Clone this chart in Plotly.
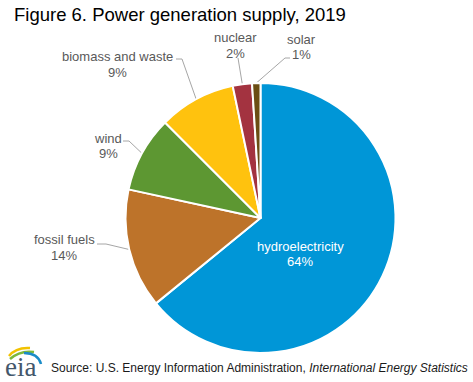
import math
import plotly.graph_objects as go

# ---------------- data ----------------
categories = ["hydroelectricity", "fossil fuels", "wind", "biomass and waste", "nuclear", "solar"]
shares = [64.1, 14.3, 9.1, 9.2, 2.3, 1.0]
colors = ["#0096D7", "#BD732A", "#5D9732", "#FFC20E", "#A33340", "#6B4E14"]

title_text = "Figure 6. Power generation supply, 2019"
source_plain = "Source: U.S. Energy Information Administration, "
source_italic = "International Energy Statistics"

# ---------------- layout constants (pixels) ----------------
W, H = 473, 382
CX, CY, R = 260.5, 218.0, 135.0
FONT = "Liberation Sans, Arial, sans-serif"
LABEL_GRAY = "#595959"
LINE_GRAY = "#A6A6A6"

# label placement: text centre x, line-1 y, line-2 y, text colour, leader path (from label side)
label_layout = {
    "hydroelectricity": dict(x=300, y1=246, y2=261, color="white", leader=None),
    "fossil fuels": dict(x=64, y1=239, y2=255, color=LABEL_GRAY, leader=[(97, 244), (106, 244)]),
    "wind": dict(x=108, y1=138, y2=153, color=LABEL_GRAY, leader=[(123, 141), (129, 141)]),
    "biomass and waste": dict(x=117, y1=56, y2=72, color=LABEL_GRAY, leader=[(176, 59), (182, 59)]),
    "nuclear": dict(x=235, y1=37, y2=53, color=LABEL_GRAY, leader=[(238, 58)]),
    "solar": dict(x=301, y1=39, y2=54, color=LABEL_GRAY, leader=[(290, 58), (285, 58)]),
}

fig = go.Figure()

fig.add_trace(go.Pie(
    labels=categories,
    values=shares,
    sort=False,
    direction="clockwise",
    rotation=0,
    marker=dict(colors=colors, line=dict(color="white", width=2)),
    textinfo="none",
    hoverinfo="label+percent",
    showlegend=False,
    domain=dict(x=[(CX - R) / W, (CX + R) / W], y=[1 - (CY + R) / H, 1 - (CY - R) / H]),
))

total = sum(shares)
cum = 0.0
annotations = []
for name, val in zip(categories, shares):
    mid = (cum + val / 2) / total * 2 * math.pi
    cum += val
    ex = CX + R * math.sin(mid)
    ey = CY - R * math.cos(mid)
    lay = label_layout[name]
    if lay["leader"]:
        pts = lay["leader"] + [(ex, ey)]
        fig.add_trace(go.Scatter(
            x=[p[0] for p in pts], y=[p[1] for p in pts],
            mode="lines", line=dict(color=LINE_GRAY, width=1),
            hoverinfo="skip", showlegend=False,
        ))
    pct = f"{round(val / total * 100)}%"
    for txt, yy in ((name, lay["y1"]), (pct, lay["y2"])):
        annotations.append(dict(
            x=lay["x"], y=yy, xref="x", yref="y", text=txt, showarrow=False,
            xanchor="center", yanchor="middle",
            font=dict(family=FONT, size=13, color=lay["color"]),
        ))

# title
annotations.append(dict(
    x=12, y=14, xref="x", yref="y", text=title_text, showarrow=False,
    xanchor="left", yanchor="middle", font=dict(family=FONT, size=18.5, color="#000000"),
))
# source
annotations.append(dict(
    x=49, y=368, xref="x", yref="y", text=source_plain + "<i>" + source_italic + "</i>",
    showarrow=False, xanchor="left", yanchor="middle",
    font=dict(family=FONT, size=12, color="#1A1A1A"),
))
# eia logo text
annotations.append(dict(
    x=20, y=367, xref="x", yref="y", text="eia", showarrow=False,
    xanchor="center", yanchor="middle",
    font=dict(family="Liberation Serif, Times New Roman, serif", size=27, color="#44576B"),
))

shapes = [
    dict(type="path", xref="x", yref="y", path="M 9,356 Q 16,347 30,348",
         line=dict(color="#F2C200", width=2.5)),
    dict(type="path", xref="x", yref="y", path="M 10,359 Q 20,350 34,352",
         line=dict(color="#7DB83A", width=2.5)),
    dict(type="path", xref="x", yref="y", path="M 24,353 Q 38,353 41,364",
         line=dict(color="#1A8CC8", width=2.5)),
]

fig.update_layout(
    width=W, height=H,
    margin=dict(l=0, r=0, t=0, b=0),
    paper_bgcolor="white", plot_bgcolor="white",
    xaxis=dict(range=[0, W], visible=False, fixedrange=True),
    yaxis=dict(range=[H, 0], visible=False, fixedrange=True),
    annotations=annotations,
    shapes=shapes,
    showlegend=False,
)

fig.write_html(
    "out.html",
    config=dict(displayModeBar=False),
    post_script="document.body.style.margin='0px';document.body.style.overflow='hidden';",
)
